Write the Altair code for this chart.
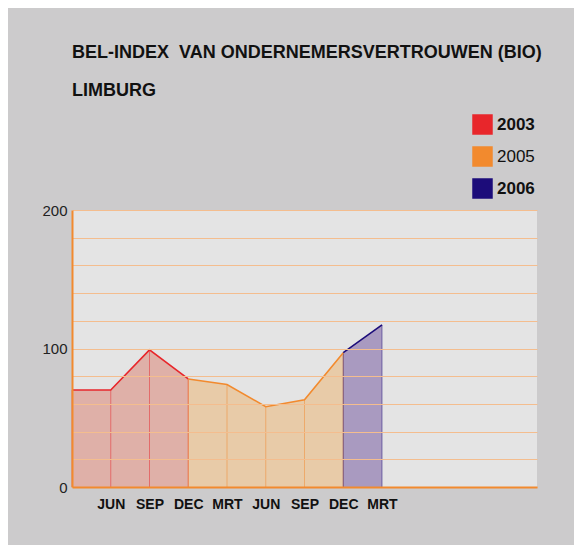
import altair as alt
import pandas as pd

# ---- data ----
quarters = ["MRT", "JUN", "SEP", "DEC", "MRT", "JUN", "SEP", "DEC", "MRT"]
values = [70, 70, 99, 78, 74, 58, 63, 97, 117]
years = ["2003", "2005", "2006"]
segment_start = [0, 3, 7]
segment_end = [3, 7, 8]
colors = ["#e8262b", "#f28a2e", "#1c0c7a"]
fill_colors = ["#dfb0a8", "#e8cba8", "#a99ac0"]

rows = []
for yr, s, e in zip(years, segment_start, segment_end):
    for i in range(s, e + 1):
        rows.append({"idx": i, "value": values[i], "year": yr, "segment": "s" + yr, "q": quarters[i]})
df = pd.DataFrame(rows)

label_arr = "[" + ",".join("'%s'" % (q if i > 0 else "") for i, q in enumerate(quarters)) + "]"

x_axis = alt.Axis(
    values=list(range(1, len(quarters))),
    labelExpr=label_arr + "[datum.value]",
    title=None,
    grid=False,
    ticks=False,
    domainColor="#f28a2e",
    domainWidth=2,
    labelFont="Liberation Sans",
    labelFontSize=14,
    labelFontWeight="bold",
    labelColor="#111111",
    labelPadding=10,
    zindex=2,
)
y_axis = alt.Axis(
    values=list(range(0, 201, 20)),
    labelExpr="datum.value % 100 == 0 ? datum.label : ''",
    title=None,
    ticks=False,
    grid=True,
    gridColor="#f4bd8e",
    gridOpacity=1,
    gridWidth=1.2,
    domainColor="#f28a2e",
    domainWidth=2,
    labelFont="Liberation Sans",
    labelFontSize=15,
    labelColor="#222222",
    labelPadding=5,
    zindex=1,
)

x_scale = alt.Scale(domain=[0, 12], nice=False, zero=False)
y_scale = alt.Scale(domain=[0, 200], nice=False)
c_scale = alt.Scale(domain=years, range=colors)
f_scale = alt.Scale(domain=["s" + yr for yr in years], range=fill_colors)

x = alt.X("idx:Q", scale=x_scale, axis=x_axis)
y = alt.Y("value:Q", scale=y_scale, axis=y_axis, stack=None)

legend = alt.Legend(
    title=None,
    orient="none",
    legendX=400,
    legendY=-96,
    symbolType="square",
    symbolSize=420,
    symbolOpacity=1,
    symbolFillColor="transparent",
    symbolStrokeWidth=0,
    rowPadding=11,
    labelFont="Liberation Sans",
    labelFontSize=17,
    labelColor="#111111",
    labelOffset=4,
    labelFontWeight=alt.ExprRef("datum.label == '2005' ? 'normal' : 'bold'"),
)

area = alt.Chart(df).mark_area(opacity=1).encode(
    x=x,
    y=y,
    fill=alt.Fill("segment:N", scale=f_scale, legend=None),
    detail="segment:N",
)

# solid squares for the legend come from this layer
key = alt.Chart(df).mark_area(opacity=1, fillOpacity=0).encode(
    x=x,
    y=y,
    color=alt.Color("year:N", scale=c_scale, legend=legend),
    detail="year:N",
)

rules = alt.Chart(df).mark_rule(strokeWidth=1, opacity=0.5).encode(
    x=x,
    y=y,
    y2=alt.datum(0),
    color=alt.Color("year:N", scale=c_scale, legend=legend),
)

line = alt.Chart(df).mark_line(strokeWidth=1.6).encode(
    x=x,
    y=y,
    color=alt.Color("year:N", scale=c_scale, legend=legend),
    detail="year:N",
    order="idx:Q",
)

chart = (
    alt.layer(area, key, rules, line)
    .properties(
        width=465,
        height=277,
        background="#cccbcc",
        autosize=alt.AutoSizeParams(type="none"),
        padding={"left": 64, "top": 202, "right": 37, "bottom": 58},
        title=alt.TitleParams(
            text="BEL-INDEX \u00a0VAN ONDERNEMERSVERTROUWEN (BIO)",
            subtitle="LIMBURG",
            anchor="start",
            frame="group",
            font="Liberation Sans",
            fontSize=18,
            fontWeight="bold",
            color="#111111",
            subtitleFont="Liberation Sans",
            subtitleFontSize=18,
            subtitleFontWeight="bold",
            subtitleColor="#111111",
            subtitlePadding=20,
            offset=14,
        ),
    )
    .configure_axis(gridColor="#f4bd8e")
    .configure_view(fill="#e4e4e4", stroke=None)
)

chart.save("out.html", embed_options={"renderer": "svg", "actions": False})
